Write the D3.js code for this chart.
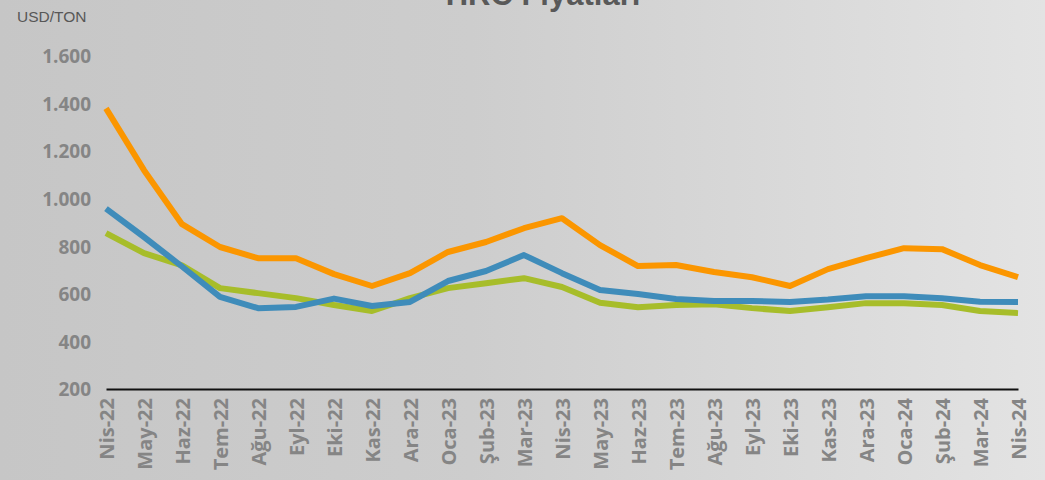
<!DOCTYPE html>
<html>
<head>
<meta charset="utf-8">
<script src="https://cdn.jsdelivr.net/npm/d3@7"></script>
<style>
  html, body { margin: 0; padding: 0; }
  body { width: 1045px; height: 480px; overflow: hidden; }
</style>
</head>
<body>
<div id="chart"></div>
<script>
(function(d3) {

  'use strict';

  // monthly labels (Turkish)
  var months = ['Nis-22', 'May-22', 'Haz-22', 'Tem-22', 'Ağu-22', 'Eyl-22', 'Eki-22', 'Kas-22', 'Ara-22',
    'Oca-23', 'Şub-23', 'Mar-23', 'Nis-23', 'May-23', 'Haz-23', 'Tem-23', 'Ağu-23', 'Eyl-23', 'Eki-23',
    'Kas-23', 'Ara-23', 'Oca-24', 'Şub-24', 'Mar-24', 'Nis-24'];

  var orangeSeries = [1380, 1120, 893, 797, 750, 750, 683, 633, 687, 776, 818, 876, 918, 805, 717, 721,
    692, 670, 633, 704, 750, 792, 788, 721, 670];
  var blueSeries = [958, 839, 715, 587, 540, 545, 580, 549, 566, 654, 696, 763, 687, 616, 599, 578,
    570, 570, 566, 576, 590, 590, 582, 567, 566];
  var greenSeries = [855, 771, 720, 624, 603, 582, 553, 528, 582, 624, 645, 666, 629, 563, 544, 553,
    556, 540, 528, 544, 561, 561, 553, 528, 519];

  var yTicks = [200, 400, 600, 800, 1000, 1200, 1400, 1600];

  var width = 1045, height = 480;
  var margin = { top: 56, right: 27, bottom: 91, left: 106 };

  var svg = d3.select('#chart').append('svg')
    .attr('width', width)
    .attr('height', height);

  var defs = svg.append('defs');
  var grad = defs.append('linearGradient')
    .attr('id', 'bg')
    .attr('x1', '0%').attr('y1', '0%')
    .attr('x2', '100%').attr('y2', '0%');
  grad.append('stop').attr('offset', '0%').attr('stop-color', '#c6c6c6');
  grad.append('stop').attr('offset', '45%').attr('stop-color', '#cdcdcd');
  grad.append('stop').attr('offset', '100%').attr('stop-color', '#e3e3e3');

  svg.append('rect')
    .attr('width', width)
    .attr('height', height)
    .attr('fill', 'url(#bg)');

  var x = d3.scalePoint()
    .domain(months)
    .range([margin.left, width - margin.right]);

  var y = d3.scaleLinear()
    .domain([200, 1600])
    .range([height - margin.bottom, margin.top]);

  // title, cut off at the top in the original
  svg.append('text')
    .attr('x', 543)
    .attr('y', 5)
    .attr('text-anchor', 'middle')
    .style('font-family', 'Liberation Sans, Arial, sans-serif')
    .style('font-weight', 'bold')
    .style('font-size', '31px')
    .style('fill', '#595959')
    .text('HRC Fiyatları');

  svg.append('text')
    .attr('x', 17)
    .attr('y', 22)
    .style('font-family', 'Liberation Sans, Arial, sans-serif')
    .style('font-size', '15.5px')
    .style('fill', '#575757')
    .text('USD/TON');

  // y axis labels
  var yAxis = svg.append('g')
    .attr('transform', 'translate(' + (margin.left - 15) + ',0)')
    .call(d3.axisLeft(y).tickValues(yTicks).tickSize(0));
  yAxis.select('.domain').remove();
  yAxis.selectAll('text')
    .text(function(d) { return d3.format(',')(d).replace(',', '.'); })
    .attr('x', 0)
    .attr('dy', '0.36em')
    .style('font-family', 'Open Sans, sans-serif')
    .style('font-weight', 'bold')
    .style('font-size', '19px')
    .style('fill', '#858585');

  // x axis
  var xAxis = svg.append('g')
    .attr('transform', 'translate(0,' + y(200) + ')')
    .call(d3.axisBottom(x).tickSize(0));
  xAxis.select('.domain')
    .attr('stroke', '#111')
    .attr('stroke-width', 2);
  xAxis.selectAll('text')
    .attr('transform', 'rotate(-90)')
    .attr('text-anchor', 'end')
    .attr('x', -9)
    .attr('y', 0)
    .attr('dy', '0.36em')
    .style('font-family', 'Open Sans, sans-serif')
    .style('font-weight', 'bold')
    .style('font-size', '20px')
    .style('fill', '#858585');

  var line = d3.line()
    .x(function(d, i) { return x(months[i]); })
    .y(function(d) { return y(d); });

  var series = [
    { values: greenSeries, color: '#a7bd2a' },
    { values: blueSeries, color: '#3f8cba' },
    { values: orangeSeries, color: '#fb9600' }
  ];

  series.forEach(function(s) {
    svg.append('path')
      .datum(s.values)
      .attr('d', line)
      .attr('fill', 'none')
      .attr('stroke', s.color)
      .attr('stroke-width', 6)
      .attr('stroke-linejoin', 'round');
  });

})(d3);
</script>
</body>
</html>
